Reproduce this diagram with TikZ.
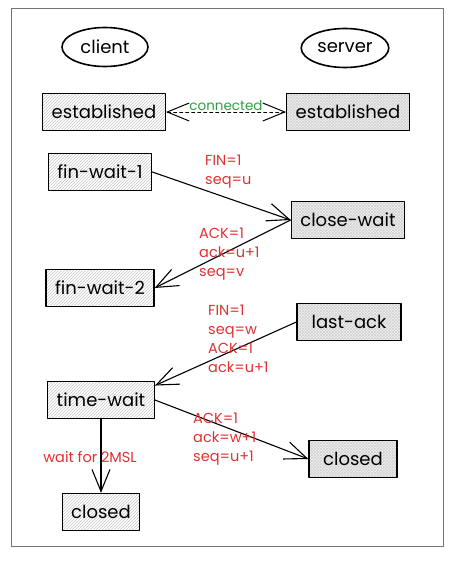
\documentclass[tikz,border=0pt]{standalone}
\usepackage{fontspec}
\setmainfont{Poppins}
\usetikzlibrary{arrows.meta,shapes.geometric,patterns}
\definecolor{msgred}{RGB}{224,49,49}
\definecolor{okgreen}{RGB}{47,158,68}

\begin{document}
\begin{tikzpicture}[line cap=round,line join=round,>={Straight Barb[length=22pt,width=18pt]},x=1.0pt,y=-1.0pt,
    side/.style={ellipse,draw,line width=1.6pt,minimum width=86pt,minimum height=39pt,font=\fontsize{18}{21}\selectfont},
    state/.style={rectangle,draw,line width=1.3pt,minimum height=37pt,inner xsep=9pt,font=\fontsize{18}{21}\selectfont,pattern=north east lines,pattern color=black!22},
    srvstate/.style={state,pattern=crosshatch,pattern color=black!18,preaction={fill=black!6}},
    msg/.style={text=msgred,font=\fontsize{14.5}{19}\selectfont,align=left,anchor=north west,inner sep=0pt},
    flow/.style={->,line width=1.1pt}]
      \useasboundingbox (0,0) rectangle (452,578);
      \draw[color=black!55,line width=1pt] (11,9) rectangle (443,546);

      % the two ends
      \node[side] (client) at (105,47) {client};
      \node[side] (server) at (345,48) {server};

      \node[state] (est1) at (104,112) {established};
      \node[srvstate] (est2) at (348,112) {established};
      \draw[<->,dashed,line width=1pt] (est1.east) -- (est2.west)
        node[midway,above=-1pt,text=okgreen,font=\fontsize{13.5}{15}\selectfont,inner sep=2pt] (conn) {connected};

      % client side
      \node[state] (fw1) at (100,172) {fin-wait-1};
      \node[state] (fw2) at (100,288) {fin-wait-2};
      \node[state] (tw) at (101,400) {time-wait};
      \node[state] (cl1) at (101,512) {closed};

      % server side
      \node[srvstate] (cw) at (348,220) {close-wait};
      \node[srvstate,minimum width=104pt] (la) at (349,322) {last-ack};
      \node[srvstate,minimum width=88pt] (cl2) at (353,459) {closed};

      \draw[flow] (fw1.east) -- (cw.west);
      \draw[flow] (cw.west) -- (fw2.east);
      \draw[flow] (la.west) -- (tw.15);
      \draw[flow] (tw.east) -- (cl2.west);
      \draw[flow] (tw.south) -- (cl1.north);

      \node[msg] (m1) at (205,155) {FIN=1\\seq=u};
      \node[msg] (m2) at (199,228) {ACK=1\\ack=u+1\\seq=v};
      \node[msg] (m3) at (208,305) {FIN=1\\seq=w\\ACK=1\\ack=u+1};
      \node[msg] (m4) at (193,413) {ACK=1\\ack=w+1\\seq=u+1};
      \node[msg,anchor=center] (m5) at (90,457) {wait for 2MSL};
\end{tikzpicture}
\end{document}
